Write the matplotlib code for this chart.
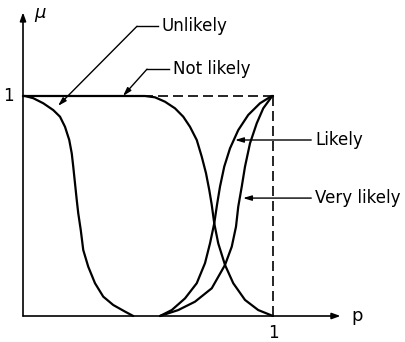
"""
Membership functions for the linguistic probabilities
"unlikely", "not likely", "likely" and "very likely".
"""

import matplotlib.pyplot as plt
import numpy as np

# ── Curve samples (p, mu) ─────────────────────────────────────────────────────
unlikely_p = [0.0, 0.008, 0.041, 0.081, 0.121, 0.148, 0.168, 0.185, 0.195, 0.201,
              0.208, 0.215, 0.221, 0.231, 0.241, 0.261, 0.288, 0.321, 0.361,
              0.408, 0.441]
unlikely_mu = [1.0, 1.0, 0.99, 0.967, 0.936, 0.906, 0.86, 0.8, 0.739, 0.679,
               0.603, 0.527, 0.467, 0.391, 0.3, 0.224, 0.149, 0.088, 0.05,
               0.02, 0.0]

not_likely_p = [0.0, 0.488, 0.528, 0.568, 0.608, 0.641, 0.668, 0.695, 0.715, 0.732,
                0.745, 0.755, 0.765, 0.781, 0.808, 0.841, 0.888, 0.941, 1.0]
not_likely_mu = [1.0, 1.0, 0.994, 0.974, 0.944, 0.906, 0.86, 0.8, 0.724, 0.649,
                 0.573, 0.505, 0.421, 0.33, 0.232, 0.149, 0.073, 0.027, 0.0]

likely_p = [0.548, 0.595, 0.648, 0.695, 0.728, 0.748, 0.765, 0.776, 0.788, 0.805,
            0.828, 0.861, 0.901, 0.948, 0.995, 1.0]
likely_mu = [0.0, 0.027, 0.08, 0.149, 0.24, 0.33, 0.421, 0.505, 0.588, 0.679,
             0.762, 0.845, 0.914, 0.967, 1.0, 1.0]

very_likely_p = [0.548, 0.621, 0.688, 0.755, 0.808, 0.835, 0.852, 0.861, 0.875,
                 0.888, 0.908, 0.935, 0.961, 0.995, 1.0]
very_likely_mu = [0.0, 0.027, 0.065, 0.126, 0.232, 0.315, 0.406, 0.497, 0.588,
                  0.679, 0.785, 0.876, 0.944, 0.997, 1.0]

# ── Labels: (text, text position, arrow tip, elbow or None) ───────────────────
LABELS = [
    ("Unlikely", (0.556, 1.317), (0.14, 0.955), (0.456, 1.317)),
    ("Not likely", (0.6, 1.122), (0.4, 1.0), (0.496, 1.122)),
    ("Likely", (1.168, 0.8), (0.848, 0.8), None),
    ("Very likely", (1.168, 0.536), (0.88, 0.536), None),
]

FONT = "DejaVu Sans"
LW_CURVE = 1.6
LW_AXIS = 1.2

fig = plt.figure(figsize=(4.06, 3.42), dpi=100)
ax = fig.add_axes([0, 0, 1, 1])
ax.set_xlim(-23 / 250, (406 - 23) / 250)
ax.set_ylim((316 - 342) / 220, 316 / 220)
ax.axis("off")

# axes with arrowheads
ax.annotate("", xy=(0, 1.38), xytext=(0, 0),
            arrowprops=dict(arrowstyle="-|>,head_length=0.5,head_width=0.18",
                            lw=LW_AXIS, color="black", shrinkA=0, shrinkB=0))
ax.annotate("", xy=(1.27, 0), xytext=(0, 0),
            arrowprops=dict(arrowstyle="-|>,head_length=0.5,head_width=0.18",
                            lw=LW_AXIS, color="black", shrinkA=0, shrinkB=0))
ax.text(0.045, 1.37, r"$\mu$", fontsize=13, ha="left", va="center")
ax.text(1.315, 0.0, "p", fontsize=13, family=FONT, ha="left", va="center")
ax.text(-0.06, 1.0, "1", fontsize=12, family=FONT, ha="center", va="center")
ax.text(1.0, -0.075, "1", fontsize=12, family=FONT, ha="center", va="center")

# dashed unit box
ax.plot([0, 1], [1, 1], color="black", lw=LW_AXIS, ls=(0, (6, 3)))
ax.plot([1, 1], [0, 1], color="black", lw=LW_AXIS, ls=(0, (6, 3)))

for p, mu in [(unlikely_p, unlikely_mu), (not_likely_p, not_likely_mu),
              (likely_p, likely_mu), (very_likely_p, very_likely_mu)]:
    ax.plot(p, mu, color="black", lw=LW_CURVE, solid_capstyle="round",
            solid_joinstyle="round")

arrow = dict(arrowstyle="-|>,head_length=0.5,head_width=0.15", lw=1.0,
             color="black", shrinkA=0, shrinkB=0)
for text, pos, tip, elbow in LABELS:
    ax.text(pos[0], pos[1], text, fontsize=12, family=FONT,
            ha="left", va="center")
    start = (pos[0] - 0.015, pos[1])
    if elbow is not None:
        ax.plot([start[0], elbow[0]], [start[1], elbow[1]], color="black", lw=1.0)
        start = elbow
    ax.annotate("", xy=tip, xytext=start, arrowprops=arrow)

fig.savefig("out.png", dpi=100)
